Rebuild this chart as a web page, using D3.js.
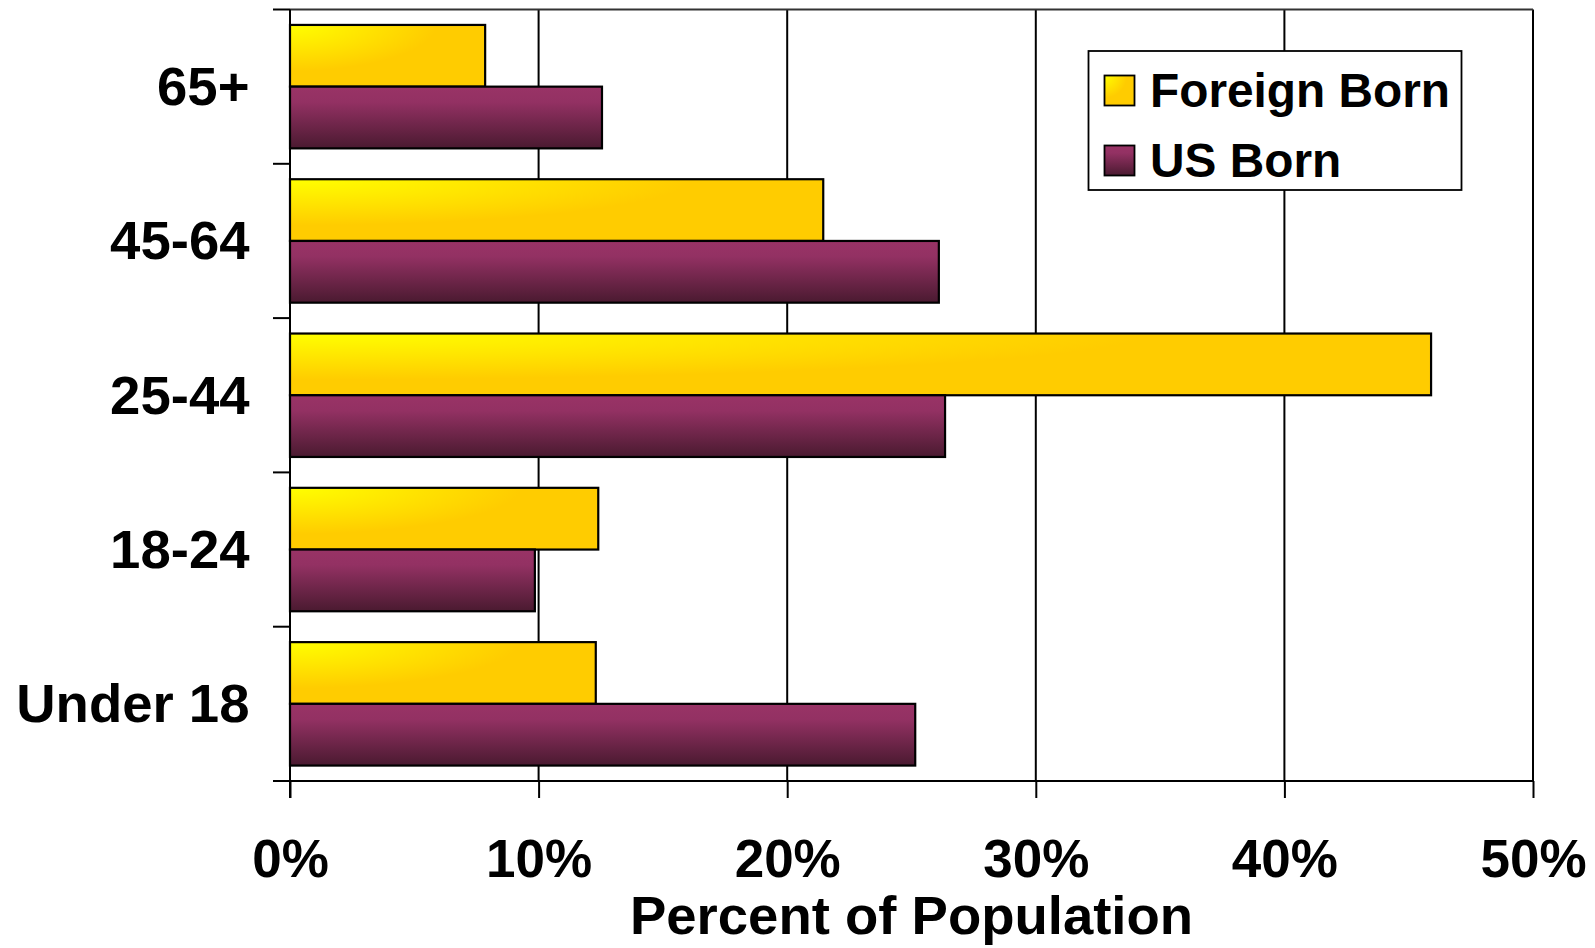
<!DOCTYPE html>
<html>
<head>
<meta charset="utf-8">
<script src="https://cdn.jsdelivr.net/npm/d3@7/dist/d3.min.js"></script>
<style>
  html, body { margin: 0; padding: 0; background: #fff; }
  svg { display: block; }
  text { font-family: "Liberation Sans", Arial, sans-serif; font-weight: bold; fill: #000; }
</style>
</head>
<body>
<svg id="chart" width="1595" height="948"></svg>
<script>
const categories = ["65+", "45-64", "25-44", "18-24", "Under 18"];
const seriesNames = ["Foreign Born", "US Born"];
const foreignBorn = [7.85, 21.45, 45.9, 12.4, 12.3];
const usBorn = [12.55, 26.1, 26.35, 9.85, 25.15];
const xTicks = [0, 10, 20, 30, 40, 50];
const xTickLabels = ["0%", "10%", "20%", "30%", "40%", "50%"];
const axisTitle = "Percent of Population";

(function () {
const svg = d3.select("#chart");
const pL = 290, pR = 1533, pT = 9.5, pB = 781;

const defs = svg.append("defs");
const gy = defs.append("radialGradient").attr("id", "gYellow")
  .attr("cx", 0).attr("cy", 0).attr("r", 1).attr("fx", 0).attr("fy", 0);
gy.append("stop").attr("offset", 0).attr("stop-color", "#FFFF00");
gy.append("stop").attr("offset", 0.75).attr("stop-color", "#FFCC00");
gy.append("stop").attr("offset", 1).attr("stop-color", "#FFCC00");
const gp = defs.append("linearGradient").attr("id", "gPurple")
  .attr("x1", 0).attr("y1", 0).attr("x2", 0).attr("y2", 1);
gp.append("stop").attr("offset", 0).attr("stop-color", "#993366");
gp.append("stop").attr("offset", 0.25).attr("stop-color", "#933163");
gp.append("stop").attr("offset", 1).attr("stop-color", "#4A1A30");
const fills = ["url(#gYellow)", "url(#gPurple)"];

const x = d3.scaleLinear().domain([0, 50]).range([pL, pR]);
const y = d3.scaleBand().domain(categories).range([pT, pB])
  .paddingInner(0.2).paddingOuter(0.1);
const ySub = d3.scaleBand().domain(seriesNames).range([0, y.bandwidth()]);

// gridlines
svg.append("g").selectAll("line").data(xTicks.slice(1)).join("line")
  .attr("x1", d => x(d)).attr("x2", d => x(d))
  .attr("y1", pT).attr("y2", pB)
  .attr("stroke", "#000").attr("stroke-width", 2);
// top border
svg.append("line").attr("x1", pL).attr("x2", pR).attr("y1", pT).attr("y2", pT)
  .attr("stroke", "#333").attr("stroke-width", 2);

// x axis
const xAxis = d3.axisBottom(x).tickValues(xTicks).tickSize(17)
  .tickFormat((d, i) => xTickLabels[i]);
const gx = svg.append("g").attr("transform", `translate(0,${pB})`).call(xAxis);
gx.select(".domain").remove();
gx.selectAll(".tick line").attr("stroke", "#000").attr("stroke-width", 2);
gx.selectAll(".tick text").attr("font-size", 53).attr("y", 96).attr("dy", 0)
  .attr("fill", "#000")
  .style("font-family", "'Liberation Sans', Arial, sans-serif").style("font-weight", "bold");
svg.append("line").attr("x1", 273).attr("x2", pR).attr("y1", pB).attr("y2", pB)
  .attr("stroke", "#000").attr("stroke-width", 2);

// y axis
const bounds = categories.map(c => y(c) - y.step() * y.paddingInner() / 2);
bounds.push(pB);
svg.append("g").selectAll("line").data(bounds).join("line")
  .attr("x1", 273).attr("x2", pL).attr("y1", d => d).attr("y2", d => d)
  .attr("stroke", "#000").attr("stroke-width", 2);
svg.append("line").attr("x1", pL).attr("x2", pL).attr("y1", pT).attr("y2", pB + 17)
  .attr("stroke", "#000").attr("stroke-width", 2);
svg.append("g").selectAll("text").data(categories).join("text")
  .attr("x", 249.5).attr("y", d => y(d) + y.bandwidth() / 2 + 18.5)
  .attr("text-anchor", "end").attr("font-size", 54.5).text(d => d);

// bars
const rows = categories.map((c, i) => ({ c, vals: [foreignBorn[i], usBorn[i]] }));
const groups = svg.append("g").selectAll("g").data(rows).join("g")
  .attr("transform", d => `translate(0,${y(d.c)})`);
groups.selectAll("rect").data(d => d.vals.map((v, j) => ({ v, s: seriesNames[j], j }))).join("rect")
  .attr("x", x(0)).attr("y", d => ySub(d.s))
  .attr("width", d => x(d.v) - x(0)).attr("height", ySub.bandwidth())
  .attr("fill", d => fills[d.j]).attr("stroke", "#000").attr("stroke-width", 2.2);

// axis title
svg.append("text").attr("x", (pL + pR) / 2).attr("y", 934)
  .attr("text-anchor", "middle").attr("font-size", 54.5).text(axisTitle);

// legend
const lg = svg.append("g");
lg.append("rect").attr("x", 1088.5).attr("y", 51).attr("width", 373).attr("height", 139)
  .attr("fill", "#fff").attr("stroke", "#000").attr("stroke-width", 1.8);
seriesNames.forEach((s, i) => {
  lg.append("rect").attr("x", 1104.5).attr("y", 75.5 + i * 70).attr("width", 30).attr("height", 30)
    .attr("fill", fills[i]).attr("stroke", "#000").attr("stroke-width", 1.8);
  lg.append("text").attr("x", 1150).attr("y", 107 + i * 70).attr("font-size", 47.8).text(s);
});
})();
</script>
</body>
</html>
